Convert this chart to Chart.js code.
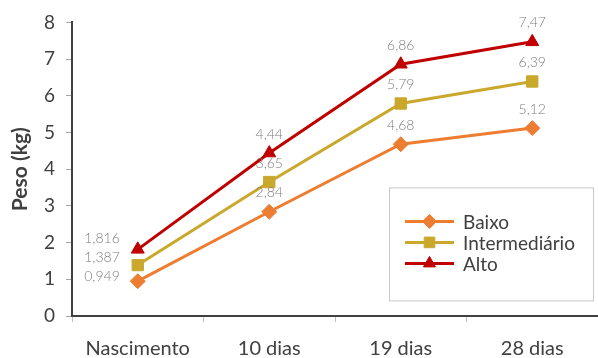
<!DOCTYPE html>
<html lang="pt">
<head>
  <meta charset="UTF-8">
  <title>Peso por grupo</title>
  <script src="https://cdn.jsdelivr.net/npm/chart.js"></script>
  <style>
    html, body { margin: 0; padding: 0; background: #fff; }
    #wrap { width: 598px; height: 358px; }
  </style>
</head>
<body>
  <div id="wrap"><canvas id="chart"></canvas></div>
  <script>
    // dados
    const categorias = ['Nascimento', '10 dias', '19 dias', '28 dias'];
    const baixo = [0.949, 2.84, 4.68, 5.12];
    const intermediario = [1.387, 3.65, 5.79, 6.39];
    const alto = [1.816, 4.44, 6.86, 7.47];
    const yTicks = [0, 1, 2, 3, 4, 5, 6, 7, 8];

    const FONT = 'Lato, "Open Sans", sans-serif';

    function fmt(v) {
      return String(v).replace('.', ',');
    }

    // rótulos de valor: à esquerda no primeiro ponto, acima nos outros
    const valueLabels = {
      id: 'valueLabels',
      afterDatasetsDraw(chart) {
        const ctx = chart.ctx;
        ctx.save();
        ctx.font = '300 14px ' + FONT;
        ctx.fillStyle = '#7f7f7f';
        chart.data.datasets.forEach((ds, i) => {
          const meta = chart.getDatasetMeta(i);
          meta.data.forEach((pt, j) => {
            const txt = fmt(ds.data[j]);
            if (j === 0) {
              ctx.textAlign = 'right';
              ctx.textBaseline = 'middle';
              ctx.fillText(txt, pt.x - 18, pt.y - 5 - i * 3);
            } else {
              ctx.textAlign = 'center';
              ctx.textBaseline = 'middle';
              ctx.fillText(txt, pt.x, pt.y - 19);
            }
          });
        });
        ctx.restore();
      }
    };

    // legenda em caixa, dentro da área do gráfico
    const boxLegend = {
      id: 'boxLegend',
      afterDraw(chart) {
        const ctx = chart.ctx;
        const a = chart.chartArea;
        const x0 = a.right - 209, y0 = a.top + 165, w = 204, h = 113;
        ctx.save();
        ctx.strokeStyle = '#c8c8c8';
        ctx.lineWidth = 1;
        ctx.strokeRect(x0 + 0.5, y0 + 0.5, w, h);
        ctx.font = '19px ' + FONT;
        ctx.textAlign = 'left';
        ctx.textBaseline = 'middle';
        chart.data.datasets.forEach((ds, i) => {
          const y = y0 + 34 + i * 21;
          const lx = x0 + 16;
          ctx.strokeStyle = ds.borderColor;
          ctx.lineWidth = 3;
          ctx.beginPath();
          ctx.moveTo(lx, y);
          ctx.lineTo(lx + 49, y);
          ctx.stroke();
          ctx.fillStyle = ds.backgroundColor;
          ctx.strokeStyle = ds.borderColor;
          ctx.lineWidth = 1;
          if (Chart.helpers && Chart.helpers.drawPoint) {
            Chart.helpers.drawPoint(ctx, {
              pointStyle: ds.pointStyle, radius: ds.pointRadius - 0.5, rotation: 0, borderWidth: 1
            }, lx + 24.5, y);
          }
          ctx.fillStyle = '#404040';
          ctx.fillText(ds.label, lx + 58, y + 1);
        });
        ctx.restore();
      }
    };

    new Chart(document.getElementById('chart'), {
      type: 'line',
      data: {
        labels: categorias,
        datasets: [
          {
            label: 'Baixo', data: baixo,
            borderColor: '#ED7D31', backgroundColor: '#ED7D31',
            pointStyle: 'rectRot', pointRadius: 7.5, borderWidth: 3, pointBorderWidth: 1
          },
          {
            label: 'Intermediário', data: intermediario,
            borderColor: '#C9A82C', backgroundColor: '#C9A82C',
            pointStyle: 'rect', pointRadius: 8, borderWidth: 3, pointBorderWidth: 1
          },
          {
            label: 'Alto', data: alto,
            borderColor: '#C00000', backgroundColor: '#C00000',
            pointStyle: 'triangle', pointRadius: 7.5, borderWidth: 3, pointBorderWidth: 1
          }
        ]
      },
      options: {
        responsive: true,
        maintainAspectRatio: false,
        animation: false,
        layout: { autoPadding: false, padding: { top: 6, right: 0, bottom: 0, left: 8 } },
        plugins: {
          legend: { display: false },
          tooltip: { enabled: false }
        },
        elements: { line: { tension: 0 } },
        scales: {
          x: {
            offset: true,
            afterFit(scale) { scale.height = 42; },
            grid: {
              offset: true,
              drawOnChartArea: false,
              drawTicks: true,
              tickLength: 6,
              tickColor: '#bfbfbf'
            },
            border: { color: '#404040', width: 2 },
            ticks: {
              color: '#404040',
              font: { family: FONT, size: 20 },
              padding: 15,
              maxRotation: 0
            }
          },
          y: {
            min: 0,
            max: 8,
            afterBuildTicks(axis) {
              axis.ticks = yTicks.map(v => ({ value: v }));
            },
            afterFit(scale) { scale.width = 64; },
            grid: {
              drawOnChartArea: false,
              drawTicks: true,
              tickLength: 6,
              tickColor: '#a6a6a6'
            },
            border: { color: '#404040', width: 2 },
            ticks: {
              color: '#404040',
              font: { family: FONT, size: 19 },
              padding: 11
            },
            title: {
              display: true,
              text: 'Peso (kg)',
              color: '#404040',
              font: { family: FONT, size: 21, weight: 'bold' },
              padding: { top: 0, bottom: 10 }
            }
          }
        }
      },
      plugins: [valueLabels, boxLegend]
    });
  </script>
</body>
</html>
